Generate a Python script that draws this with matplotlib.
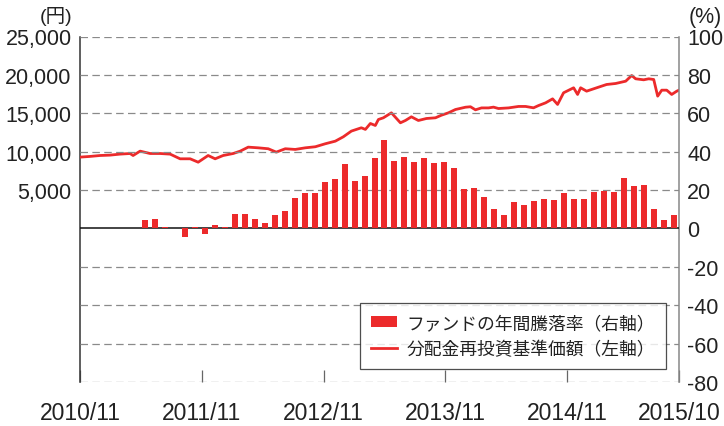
import matplotlib
matplotlib.use("Agg")
import matplotlib.pyplot as plt
from matplotlib.patches import Patch
from matplotlib.lines import Line2D

plt.rcParams['font.family'] = ['Liberation Sans', 'Noto Sans CJK JP', 'DejaVu Sans']
plt.rcParams['axes.unicode_minus'] = False

# ---- data ----
# x-axis tick labels (months)
tick_labels = ["2010/11", "2011/11", "2012/11", "2013/11", "2014/11", "2015/10"]
tick_months = [0, 12, 24, 36, 48, 59]          # months elapsed since 2010/11

# NAV with dividends reinvested (left axis, yen): months since 2010/11, value
nav_month = [0.00, 0.99, 1.97, 2.96, 3.94, 4.93, 5.23, 5.92, 6.90, 7.89, 8.88, 9.86,
             10.85, 11.64, 12.62, 13.31, 14.10, 15.09, 15.78, 16.57, 17.55, 18.54, 19.33,
             20.22, 21.20, 22.19, 23.18, 24.16, 25.15, 25.94, 26.73, 27.71, 28.11, 28.60,
             29.09, 29.39, 29.88, 30.67, 31.56, 32.05, 32.64, 33.33, 34.12, 35.01, 35.60,
             36.29, 36.98, 37.97, 38.46, 38.95, 39.55, 40.24, 40.73, 41.22, 42.21, 43.20,
             43.89, 44.67, 45.17, 45.86, 46.55, 47.04, 47.63, 48.62, 49.01, 49.31, 49.90,
             50.89, 51.87, 52.76, 53.75, 54.34, 54.73, 55.52, 56.02, 56.51, 56.90, 57.30,
             57.79, 58.28, 58.78, 59.00]
nav_value = [9290, 9380, 9500, 9550, 9680, 9760, 9500, 10070, 9760, 9760, 9680, 9070,
             9070, 8630, 9500, 9070, 9500, 9760, 10070, 10590, 10500, 10380, 9940,
             10380, 10290, 10500, 10640, 11030, 11370, 11940, 12680, 13110, 12900, 13670,
             13410, 14190, 14410, 15060, 13760, 14060, 14540, 14060, 14320, 14410, 14750,
             15060, 15490, 15790, 15850, 15450, 15700, 15700, 15800, 15620, 15700, 15890,
             15890, 15710, 16010, 16360, 16880, 16150, 17670, 18320, 17450, 18320, 17880,
             18320, 18750, 18880, 19180, 19920, 19490, 19360, 19490, 19400, 17230, 18010,
             18010, 17450, 17880, 18010]

# Fund annual return (right axis, %), monthly categories 2010/11 .. 2015/10
n_months = 60
return_start = 6   # first bar: 2011/05
annual_return = [4.3, 4.7, 1.0, 0.0, -4.5, 0.5, -3.0, 1.6, 1.0, 7.3, 7.3, 4.7, 2.6, 6.8,
                 8.9, 16.1, 18.3, 18.3, 24.1, 25.5, 33.4, 24.5, 27.2, 36.5, 45.9, 34.9,
                 37.0, 34.4, 36.5, 33.9, 34.4, 31.3, 20.3, 20.9, 16.2, 9.9, 6.8, 13.6,
                 12.0, 14.1, 15.6, 14.6, 18.3, 15.1, 15.6, 18.8, 19.3, 18.8, 26.1, 21.9,
                 22.4, 9.9, 4.2, 6.8]

left_ticks = [5000, 10000, 15000, 20000, 25000]
right_ticks = [-80, -60, -40, -20, 0, 20, 40, 60, 80, 100]
legend_labels = ["ファンドの年間騰落率（右軸）", "分配金再投資基準価額（左軸）"]

RED = "#ec2a2b"

# ---- figure ----
fig = plt.figure(figsize=(7.24, 4.27), dpi=100)
L, R, T, B = 80 / 724, 679 / 724, 1 - 37.5 / 427, 1 - 383 / 427
ax = fig.add_axes([L, B, R - L, T - B])
axr = ax.twinx()
axb = axr.twiny()

ax.set_xlim(0, 59)
ax.set_ylim(-20000, 25000)
axr.set_ylim(-80, 100)
axb.set_xlim(0, n_months)

# grid lines
for v in right_ticks:
    if v == 0:
        axr.axhline(v, color="#111111", lw=1.1, zorder=3)
    else:
        axr.axhline(v, color="#8a8a8a", lw=0.9, ls=(0, (6, 3.5)), zorder=0)

# line
ax.plot(nav_month, nav_value, color=RED, lw=2.0, zorder=4, solid_joinstyle="round")

# bars
bar_x = [i + 0.5 for i in range(return_start, return_start + len(annual_return))]
axb.bar(bar_x, annual_return, width=0.6, color=RED, zorder=2)

# spines
for a in (ax, axr, axb):
    for s in a.spines.values():
        s.set_visible(False)
ax.spines['left'].set_visible(True)
ax.spines['left'].set_color("#333333")
ax.spines['left'].set_linewidth(1.1)
axr.spines['right'].set_visible(True)
axr.spines['right'].set_color("#888888")
axr.spines['right'].set_linewidth(1.1)

# ticks
ax.set_xticks(tick_months)
ax.set_xticklabels(tick_labels, fontsize=16.5, color="#222222")
ax.tick_params(axis='x', direction='in', length=9, width=0.9, color="#666666", pad=14)
ax.set_yticks(left_ticks)
ax.set_yticklabels([f"{v:,}" for v in left_ticks], fontsize=15.5, color="#222222")
ax.tick_params(axis='y', length=0, pad=6)
axr.set_yticks(right_ticks)
axr.set_yticklabels([str(v) for v in right_ticks], fontsize=15.5, color="#222222")
axr.tick_params(axis='y', length=0, pad=6)
axb.xaxis.set_visible(False)
axb.yaxis.set_visible(False)

# axis unit labels
fig.text(56 / 724, 1 - 17 / 427, "(円)", fontsize=14, ha="center", va="center", color="#222222")
fig.text(705 / 724, 1 - 17 / 427, "(%)", fontsize=15.5, ha="center", va="center", color="#222222")

# legend
handles = [Patch(facecolor=RED, edgecolor="none"), Line2D([], [], color=RED, lw=2.0)]
leg = axb.legend(handles, legend_labels, loc="upper right",
                 bbox_to_anchor=(0.978, 0.228), borderaxespad=0,
                 prop={"family": ["Noto Sans CJK JP"], "size": 12.8},
                 frameon=True, fancybox=False, edgecolor="#222222",
                 handlelength=1.45, handleheight=0.6, handletextpad=0.55,
                 borderpad=0.6, labelspacing=0.45)
leg.get_frame().set_linewidth(0.9)
for t in leg.get_texts():
    t.set_color("#222222")
leg.set_zorder(10)

fig.savefig("out.png", dpi=100)
